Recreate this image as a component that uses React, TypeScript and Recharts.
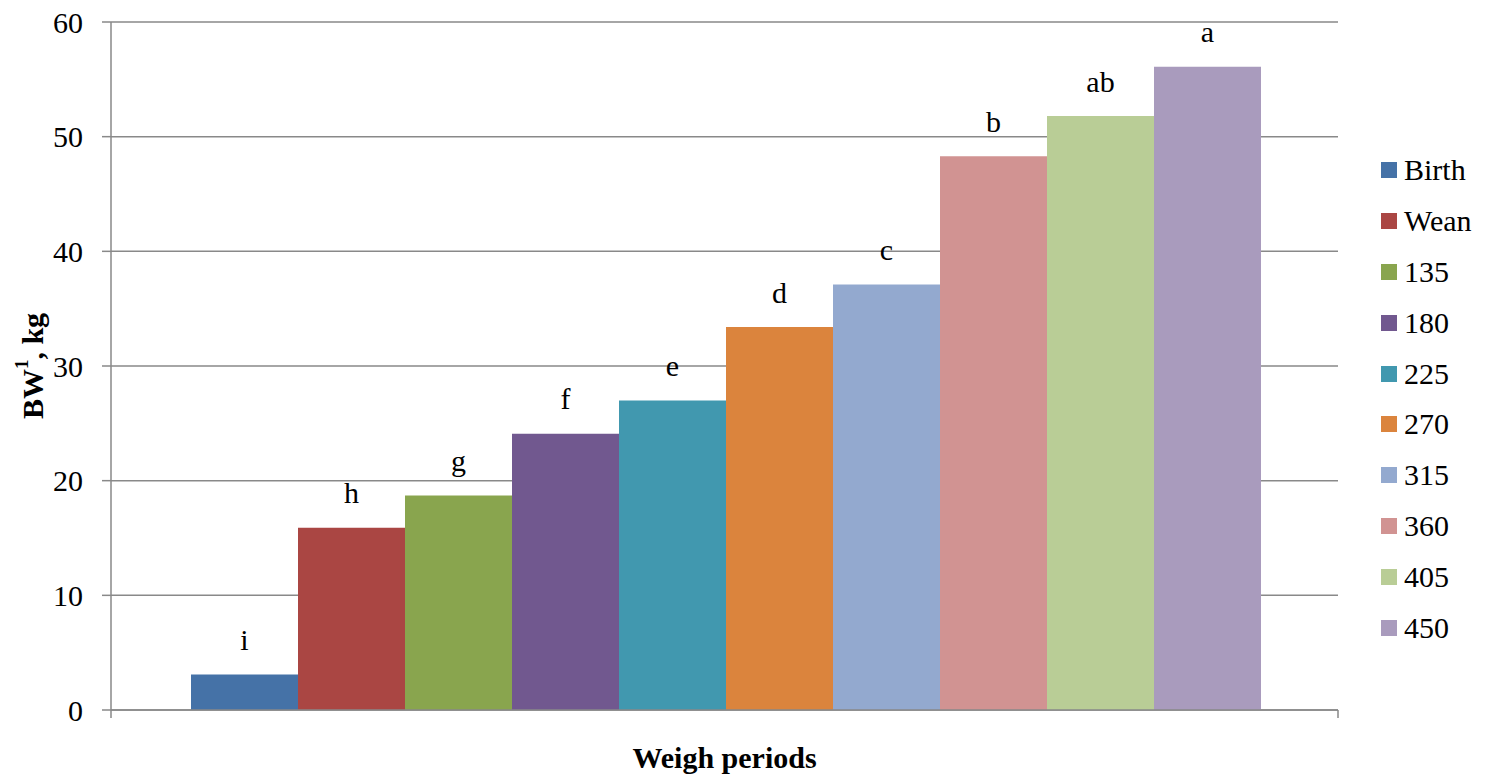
import React from 'react';
import { BarChart, Bar, XAxis, YAxis, CartesianGrid, Legend, LabelList, ReferenceLine } from 'recharts';

const categories = ['Weigh periods'];
const seriesNames = ['Birth', 'Wean', '135', '180', '225', '270', '315', '360', '405', '450'];
const seriesValues = [3.1, 15.9, 18.7, 24.1, 27.0, 33.4, 37.1, 48.3, 51.8, 56.1];
const seriesLetters = ['i', 'h', 'g', 'f', 'e', 'd', 'c', 'b', 'ab', 'a'];
const seriesColors = ['#4572A7', '#AA4643', '#89A54E', '#71588F', '#4198AF', '#DB843D', '#93A9CF', '#D19392', '#B9CD96', '#A99BBD'];
const yTicks = [0, 10, 20, 30, 40, 50, 60];

const data = categories.map((c) => {
  const row: Record<string, number | string> = { name: c };
  seriesNames.forEach((n, i) => { row[n] = seriesValues[i]; });
  return row;
});

const FONT = "'Liberation Serif', 'Times New Roman', 'DejaVu Serif', serif";
const GRID = '#898989';
const FS = 30;

const LegendContent = () => (
  <div style={{ fontFamily: FONT, fontSize: FS, color: '#000', lineHeight: 1 }}>
    {seriesNames.map((n, i) => (
      <div key={n} style={{ height: 50.9, display: 'flex', alignItems: 'center' }}>
        <span style={{ display: 'inline-block', width: 16, height: 16, background: seriesColors[i], marginRight: 7 }} />
        <span>{n}</span>
      </div>
    ))}
  </div>
);

export default function App() {
  return (
    <div style={{ width: 1471, height: 769, fontFamily: FONT }}>
      <BarChart width={1471} height={769} data={data} margin={{ top: 14, right: 141, bottom: 7, left: 0 }} barCategoryGap={80} barGap={0}>
        <CartesianGrid vertical={false} stroke={GRID} strokeWidth={1.5} />
        <XAxis
          dataKey="name"
          height={60}
          axisLine={{ stroke: GRID, strokeWidth: 1.5 }}
          tickLine={false}
          tick={false}
          label={{
            content: (props: any) => {
              const vb = props.viewBox || {};
              return (
                <text x={vb.x + vb.width / 2} y={vb.y + 47} textAnchor="middle" dominantBaseline="central" style={{ fontFamily: FONT }} fontSize={FS} fontWeight="bold" fill="#000">
                  Weigh periods
                </text>
              );
            },
          }}
        />
        <YAxis
          width={103}
          domain={[0, 60]}
          ticks={yTicks}
          interval={0}
          axisLine={{ stroke: GRID, strokeWidth: 1.5 }}
          tickLine={{ stroke: GRID, strokeWidth: 1.5 }}
          tickSize={9}
          tickMargin={19}
          tick={{ fontSize: FS, fill: '#000', style: { fontFamily: FONT } }}
          label={{
            content: (props: any) => {
              const vb = props.viewBox || {};
              const cx = 24;
              const cy = vb.y + vb.height / 2;
              return (
                <text x={cx} y={cy} transform={`rotate(-90 ${cx} ${cy})`} textAnchor="middle" dominantBaseline="central" style={{ fontFamily: FONT }} fontSize={FS} fontWeight="bold" fill="#000">
                  <tspan>BW</tspan>
                  <tspan fontSize={19} dy={-11}>1</tspan>
                  <tspan dy={11}>, kg</tspan>
                </text>
              );
            },
          }}
        />
        <ReferenceLine
          segment={[{ x: categories[0], y: 0 }, { x: categories[0], y: -0.7 }]}
          position="start"
          ifOverflow="visible"
          stroke={GRID}
          strokeWidth={1.5}
        />
        <ReferenceLine
          segment={[{ x: categories[0], y: 0 }, { x: categories[0], y: -0.7 }]}
          position="end"
          ifOverflow="visible"
          stroke={GRID}
          strokeWidth={1.5}
        />
        <Legend
          layout="vertical"
          align="center"
          verticalAlign="middle"
          content={() => <LegendContent />}
          wrapperStyle={{ left: 1373, top: 136.5, width: 100 }}
        />
        {seriesNames.map((n, i) => (
          <Bar key={n} dataKey={n} fill={seriesColors[i]} isAnimationActive={false}>
            <LabelList
              dataKey={n}
              content={(p: any) => (
                <text x={p.x + p.width / 2} y={p.y - 35} textAnchor="middle" dominantBaseline="central" style={{ fontFamily: FONT }} fontSize={FS} fill="#000">
                  {seriesLetters[i]}
                </text>
              )}
            />
          </Bar>
        ))}
      </BarChart>
    </div>
  );
}
